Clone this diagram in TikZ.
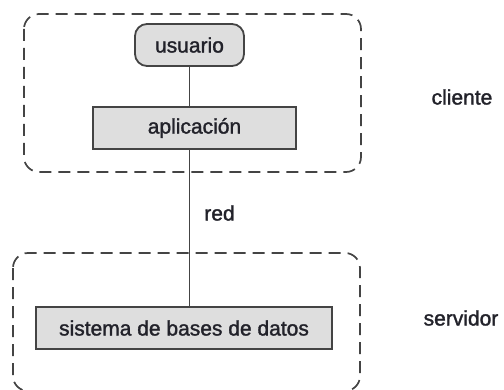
\documentclass[tikz,border=0pt]{standalone}
\usepackage{fontspec}
\setmainfont{Liberation Sans}[UprightFeatures={FakeBold=1.5}]
\definecolor{boxfill}{HTML}{DEDEDE}
\definecolor{edge}{HTML}{444444}
\definecolor{txt}{HTML}{22222A}
\begin{document}
\begin{tikzpicture}[x=1pt,y=1pt,
  every node/.style={font=\fontsize{21}{24}\selectfont, text=txt},
  boxnode/.style={draw=edge, line width=1.8pt, fill=boxfill, inner sep=0pt, minimum height=42pt},
  group/.style={draw=edge, line width=1.7pt, dash pattern=on 12pt off 7pt, rounded corners=15pt},
  conn/.style={draw=edge, line width=1.8pt}]
\useasboundingbox (0,0) rectangle (504,389);
\draw[group] (24,375) rectangle (361,217);
\draw[group] (13,136) rectangle (360,-2);
\node[boxnode, rounded corners=12pt, minimum width=109pt] (usuario) at (189.5,344) {usuario};
\node[boxnode, minimum width=203pt] (aplicacion) at (194.5,261) {aplicación};
\node[boxnode, minimum width=296pt] (sistema) at (184,61) {sistema de bases de datos};
\draw[conn] (usuario.south) -- (aplicacion.north -| usuario.south);
\draw[conn] (aplicacion.south -| usuario.south) -- (sistema.north -| usuario.south);
\node (red) at (219.5,176) {red};
\node (cliente) at (462,292) {cliente};
\node (servidor) at (461,71) {servidor};
\end{tikzpicture}
\end{document}
